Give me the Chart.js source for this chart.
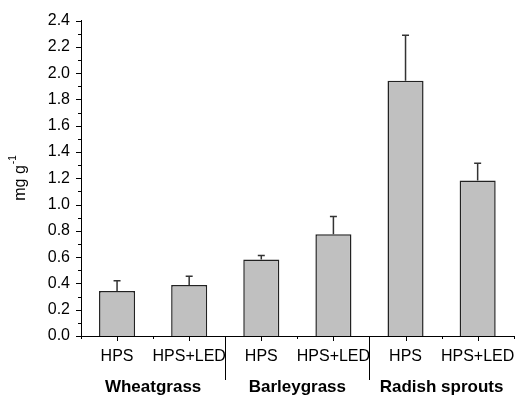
<!DOCTYPE html>
<html>
<head>
<meta charset="utf-8">
<script src="https://cdn.jsdelivr.net/npm/chart.js@4"></script>
<style>
  html, body { margin: 0; padding: 0; background: #fff; }
  #wrap { width: 526px; height: 398px; position: relative; }
</style>
</head>
<body>
<div id="wrap"><canvas id="chart"></canvas></div>
<script>
// Treatments per crop
const categories = ['HPS', 'HPS+LED', 'HPS', 'HPS+LED', 'HPS', 'HPS+LED'];
const groups = ['Wheatgrass', 'Barleygrass', 'Radish sprouts'];
// mg g-1
const values = [0.343, 0.388, 0.583, 0.775, 1.943, 1.183];
// upper error (SD)
const errors = [0.077, 0.067, 0.030, 0.135, 0.345, 0.132];
const yTicks = [0.0, 0.2, 0.4, 0.6, 0.8, 1.0, 1.2, 1.4, 1.6, 1.8, 2.0, 2.2, 2.4];

const FONT = "'Liberation Sans', Arial, sans-serif";

// error bars, minor ticks, group labels, y title
const extras = {
    id: 'extras',
    afterDatasetsDraw(chart) {
        const ctx = chart.ctx;
        const x = chart.scales.x;
        const y = chart.scales.y;
        const area = chart.chartArea;

        ctx.save();
        // error bars (upper only)
        ctx.strokeStyle = '#333';
        ctx.lineWidth = 1.5;
        values.forEach((v, i) => {
            const px = x.getPixelForValue(i);
            const top = y.getPixelForValue(v + errors[i]);
            const base = y.getPixelForValue(v);
            ctx.beginPath();
            ctx.moveTo(px, base);
            ctx.lineTo(px, top);
            ctx.moveTo(px - 3.5, top);
            ctx.lineTo(px + 3.5, top);
            ctx.stroke();
        });

        // axis ticks
        ctx.strokeStyle = '#000';
        ctx.lineWidth = 1;
        ctx.beginPath();
        yTicks.forEach(t => {
            const py = Math.round(y.getPixelForValue(t)) + 0.5;
            ctx.moveTo(area.left - 5, py);
            ctx.lineTo(area.left, py);
        });
        for (let t = 0.1; t < 2.4; t += 0.2) {
            const py = Math.round(y.getPixelForValue(t)) + 0.5;
            ctx.moveTo(area.left - 3, py);
            ctx.lineTo(area.left, py);
        }
        categories.forEach((c, i) => {
            const px = Math.round(x.getPixelForValue(i)) + 0.5;
            ctx.moveTo(px, area.bottom);
            ctx.lineTo(px, area.bottom + 5);
        });
        for (let i = 0; i <= categories.length; i++) {
            const px = Math.round(x.getPixelForValue(i - 0.5)) + 0.5;
            ctx.moveTo(px, area.bottom);
            ctx.lineTo(px, area.bottom + 3);
        }
        // group separators
        [1.5, 3.5].forEach(b => {
            const px = Math.round(x.getPixelForValue(b)) + 0.5;
            ctx.moveTo(px, area.bottom);
            ctx.lineTo(px, area.bottom + 44);
        });
        ctx.stroke();

        // group labels
        ctx.fillStyle = '#000';
        ctx.font = 'bold 17px ' + FONT;
        ctx.textAlign = 'center';
        ctx.textBaseline = 'middle';
        groups.forEach((g, k) => {
            const px = x.getPixelForValue(2 * k + 0.5);
            ctx.fillText(g, px, 387);
        });

        // y axis title
        ctx.translate(21, 178);
        ctx.rotate(-Math.PI / 2);
        ctx.textAlign = 'left';
        ctx.textBaseline = 'middle';
        const main = 'mg g';
        ctx.font = '16px ' + FONT;
        const w1 = ctx.measureText(main).width;
        ctx.font = '10px ' + FONT;
        const w2 = ctx.measureText('-1').width;
        const start = -(w1 + w2 + 1) / 2;
        ctx.font = '16px ' + FONT;
        ctx.fillText(main, start, 0);
        ctx.font = '10px ' + FONT;
        ctx.fillText('-1', start + w1 + 1, -8);
        ctx.restore();
    }
};

new Chart(document.getElementById('chart'), {
    type: 'bar',
    data: {
        labels: categories,
        datasets: [{
            data: values,
            backgroundColor: '#c0c0c0',
            borderColor: '#222',
            borderWidth: 1.5,
            borderSkipped: 'bottom',
            barPercentage: 0.5,
            categoryPercentage: 1.0
        }]
    },
    options: {
        responsive: true,
        maintainAspectRatio: false,
        animation: false,
        layout: { padding: { top: 16, right: 8, left: 0, bottom: 0 } },
        plugins: {
            legend: { display: false },
            tooltip: { enabled: false }
        },
        scales: {
            x: {
                offset: true,
                grid: { display: false, drawTicks: false },
                border: { display: true, color: '#000', width: 1 },
                ticks: {
                    color: '#000',
                    font: { family: FONT, size: 16 },
                    padding: 11,
                    maxRotation: 0,
                    autoSkip: false
                },
                afterFit(scale) { scale.height = 62; }
            },
            y: {
                min: 0,
                max: 2.4,
                grid: { display: false, drawTicks: false },
                border: { display: true, color: '#000', width: 1 },
                ticks: {
                    stepSize: 0.2,
                    color: '#000',
                    font: { family: FONT, size: 16 },
                    padding: 11,
                    callback: v => Number(v).toFixed(1)
                },
                afterFit(scale) { scale.width = 81; }
            }
        }
    },
    plugins: [extras]
});
</script>
</body>
</html>
